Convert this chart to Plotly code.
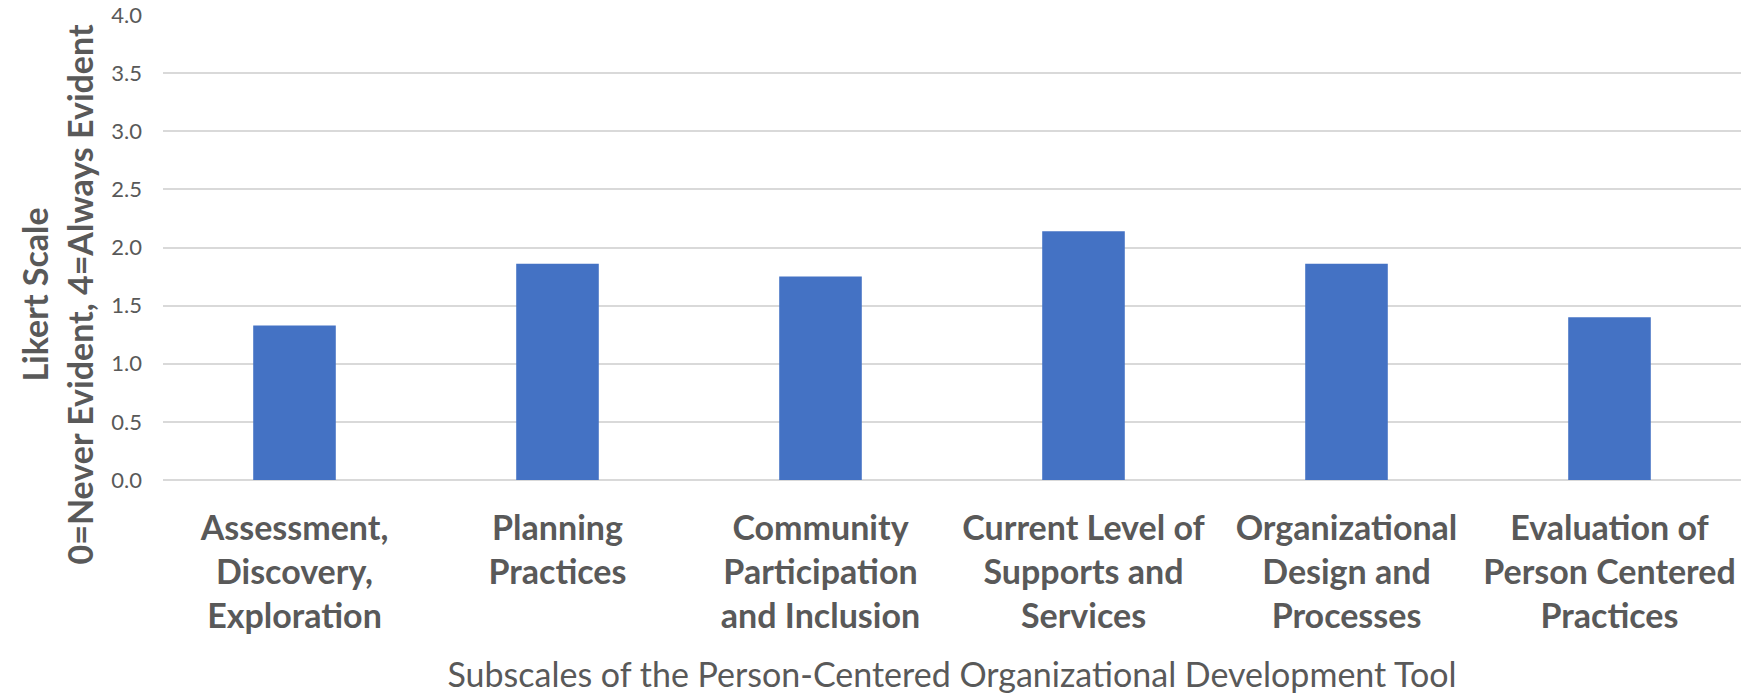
import plotly.graph_objects as go

categories = [
    "Assessment,<br>Discovery,<br>Exploration",
    "Planning<br>Practices",
    "Community<br>Participation<br>and Inclusion",
    "Current Level of<br>Supports and<br>Services",
    "Organizational<br>Design and<br>Processes",
    "Evaluation of<br>Person Centered<br>Practices",
]
values = [1.33, 1.86, 1.75, 2.14, 1.86, 1.40]
y_ticks = [0, 0.5, 1.0, 1.5, 2.0, 2.5, 3.0, 3.5, 4.0]
y_title = "Likert Scale<br>0=Never Evident, 4=Always Evident"
x_title = "Subscales of the Person-Centered Organizational Development Tool"

FONT = "Lato"
GRAY = "#595959"

fig = go.Figure(
    go.Bar(
        x=categories,
        y=values,
        marker=dict(color="#4472C4", line=dict(width=0)),
        width=0.314,
    )
)

fig.update_layout(
    width=1744,
    height=697,
    margin=dict(l=163, r=3, t=15, b=217),
    plot_bgcolor="white",
    paper_bgcolor="white",
    showlegend=False,
    font=dict(family=FONT, color=GRAY),
)

fig.update_xaxes(
    showgrid=False,
    showline=False,
    ticks="",
    tickfont=dict(family=FONT, size=34, color=GRAY, weight="bold"),
    ticklabelstandoff=25,
    title=dict(
        text=x_title,
        font=dict(family=FONT, size=34, color=GRAY),
        standoff=28,
    ),
    automargin=False,
)

fig.update_yaxes(
    range=[0, 4],
    tickvals=y_ticks,
    tickformat=".1f",
    showgrid=True,
    gridcolor="#d9d9d9",
    gridwidth=1.5,
    zeroline=True,
    zerolinecolor="#d9d9d9",
    zerolinewidth=1.5,
    showline=False,
    ticks="",
    tickfont=dict(family=FONT, size=22, color=GRAY),
    ticklabelstandoff=20,
    automargin=False,
)

fig.add_annotation(
    text=y_title,
    textangle=-90,
    xref="paper",
    yref="paper",
    x=-0.0675,
    y=0.4,
    xanchor="center",
    yanchor="middle",
    showarrow=False,
    font=dict(family=FONT, size=34, color=GRAY, weight="bold"),
)

fig.write_html("out.html")
